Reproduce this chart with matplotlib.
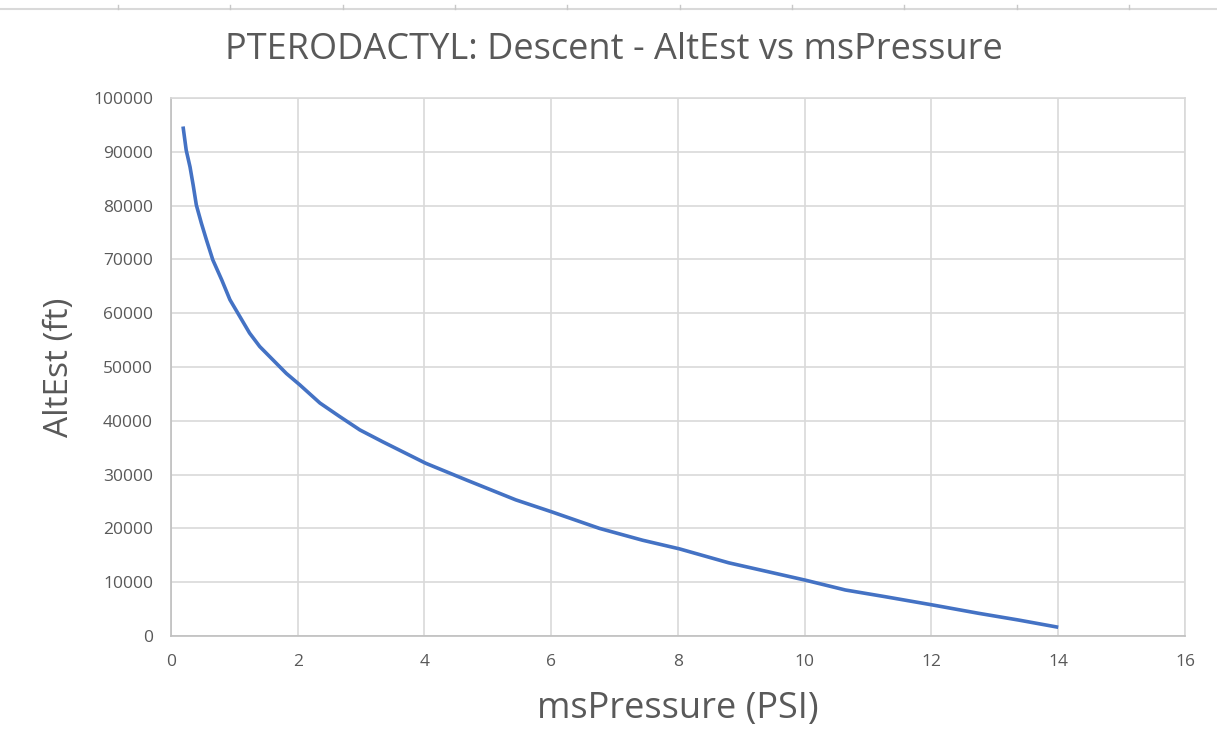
import numpy as np
import matplotlib
matplotlib.use('Agg')
import matplotlib.pyplot as plt
from matplotlib.lines import Line2D

# values
pressure = [0.19, 0.24, 0.30, 0.35, 0.40, 0.48, 0.56, 0.66, 0.80, 0.93, 1.09, 1.24, 1.40,
            1.61, 1.82, 2.03, 2.35, 2.66, 2.98, 3.34, 4.02, 4.66, 5.44, 6.00, 6.76, 7.44,
            8.02, 8.80, 10.00, 10.64, 11.27, 12.02, 12.74, 13.37, 14.00]
alt_est = [94700, 90300, 87200, 83800, 80100, 76700, 73600, 69900, 66200, 62500, 59300, 56300, 53800,
           51300, 48800, 46700, 43300, 40800, 38300, 36100, 32100, 29000, 25300, 23100, 20000, 17800,
           16200, 13600, 10400, 8550, 7300, 5760, 4220, 2970, 1620]

x_ticks = [0, 2, 4, 6, 8, 10, 12, 14, 16]
y_ticks = [0, 10000, 20000, 30000, 40000, 50000, 60000, 70000, 80000, 90000, 100000]

plt.rcParams['font.family'] = ['Open Sans', 'DejaVu Sans']
txt = '#595959'
grid_c = '#D9D9D9'

fig = plt.figure(figsize=(12.17, 7.49), dpi=100)
ax = fig.add_axes([0.1405, 0.1509, 0.8332, 0.7183])

ax.plot(pressure, alt_est, color='#4472C4', lw=2.6, solid_capstyle='butt',
        solid_joinstyle='round')

ax.set_xlim(0, 16)
ax.set_ylim(0, 100000)
ax.set_xticks(x_ticks)
ax.set_yticks(y_ticks)
ax.tick_params(length=0, labelsize=12.5, colors=txt, pad=13)
ax.grid(True, color=grid_c, lw=1.2)
ax.set_axisbelow(True)
for s in ax.spines.values():
    s.set_color(grid_c)
    s.set_linewidth(1.2)
ax.spines['left'].set_color('#BFBFBF')
ax.spines['bottom'].set_color('#BFBFBF')

ax.set_xlabel('msPressure (PSI)', fontsize=26, color=txt, labelpad=15)
ax.set_ylabel('AltEst (ft)', fontsize=24, color=txt, labelpad=12)
fig.text(0.5045, 0.933, 'PTERODACTYL: Descent - AltEst vs msPressure',
         ha='center', va='center', fontsize=26, color=txt)

# thin sheet ruler along the top edge
fig.add_artist(Line2D([0.0, 1.0], [0.988, 0.988], color='#D9D9D9', lw=1.5))
for px in [118, 230, 343, 455, 567, 680, 792, 904, 1017, 1129]:
    fig.add_artist(Line2D([px / 1217, px / 1217], [0.988, 0.993], color='#C8C8C8', lw=1))

fig.savefig('out.png', dpi=100, facecolor='white')
